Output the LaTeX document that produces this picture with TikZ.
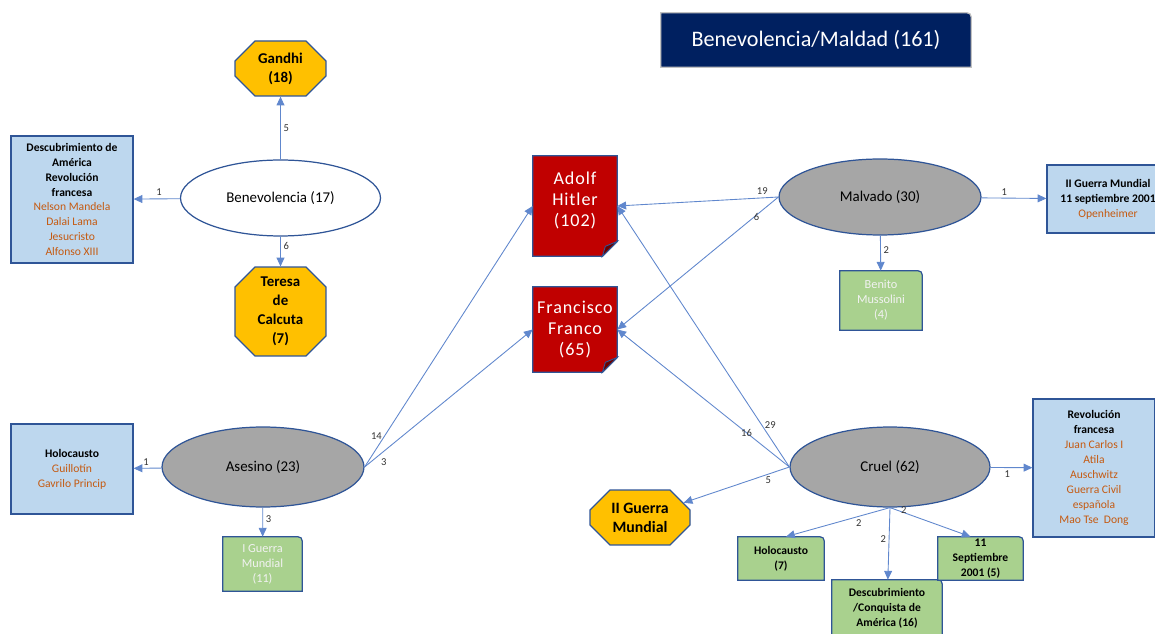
\documentclass[tikz,border=0pt]{standalone}
\usepackage{fontspec}
\setmainfont{Carlito}
\newfontfamily\spacedfont[LetterSpace=5]{Carlito}
\usetikzlibrary{shapes.geometric,shapes.misc,arrows.meta,backgrounds}

\definecolor{linkblue}{HTML}{4472C4}
\definecolor{edgeblue}{HTML}{2F5597}
\definecolor{boxblue}{HTML}{BDD7EE}
\definecolor{namecol}{HTML}{C55A11}
\definecolor{gold}{HTML}{FFC000}
\definecolor{leaf}{HTML}{A9D18E}
\definecolor{stone}{HTML}{A6A6A6}
\definecolor{blood}{HTML}{C00000}
\definecolor{navy}{HTML}{002060}

\tikzset{
  arr/.style={draw=linkblue!85, line width=0.5pt, -{Triangle[length=5pt,width=4.5pt]}},
  num/.style={font=\fontsize{6}{6}\selectfont, text=black!80, inner sep=1.5pt},
  trait/.style={ellipse, draw=edgeblue, line width=0.7pt, minimum width=4cm, minimum height=1.52cm, inner sep=0pt, font=\fontsize{8.5}{10}\selectfont},
  listbox/.style={rectangle, draw=edgeblue, fill=boxblue, line width=0.7pt, minimum width=2.44cm, align=center, inner sep=0pt, font=\fontsize{6.6}{8.5}\selectfont\bfseries},
  octo/.style={chamfered rectangle, chamfered rectangle xsep=0.2cm, chamfered rectangle ysep=0.2cm, draw=edgeblue, fill=gold, line width=0.7pt, align=center, inner sep=0pt, font=\fontsize{8.5}{10.8}\selectfont\bfseries},
  leafbox/.style={align=center, inner sep=0pt, font=\fontsize{6.6}{8.5}\selectfont\bfseries},
  person/.style={align=center, inner sep=0pt, minimum width=1.68cm, text=white, font=\spacedfont\fontsize{10.3}{12}\selectfont},
}
\newcommand{\nm}[1]{{\mdseries\color{namecol}#1}}

\begin{document}
\begin{tikzpicture}[x=0.02cm, y=-0.02cm]
  \useasboundingbox (0,0) rectangle (1155,634);

  % title
  \node[align=center, minimum width=6.2cm, minimum height=1.08cm, text=white, font=\fontsize{12.6}{14}\selectfont] (title) at (816,40) {Benevolencia/Maldad (161)};

  % benevolencia
  \node[trait] (benev) at (280.5,198) {Benevolencia (17)};
  \node[octo, minimum width=1.82cm, minimum height=1.1cm] (gandhi) at (280.5,68.5) {Gandhi\\(18)};
  \node[octo, minimum width=1.82cm, minimum height=1.46cm] (teresa) at (280.5,311.5) {Teresa\\de\\Calcuta\\(7)};
  \node[listbox, minimum height=2.54cm] (virtues) at (72,199.5) {Descubrimiento de\\América\\Revolución\\francesa\\\nm{Nelson Mandela}\\\nm{Dalai Lama}\\\nm{Jesucristo}\\\nm{Alfonso XIII}};

  % persons
  \node[person, minimum height=2cm] (hitler) at (575,206) {Adolf\\Hitler\\(102)\\[-4pt]};
  \node[person, minimum height=1.7cm] (franco) at (575,329.5) {Francisco\\Franco\\(65)};

  % malvado
  \node[trait, fill=stone, minimum width=4.04cm] (malvado) at (880,197) {Malvado (30)};
  \node[listbox, minimum height=1.36cm] (wwii) at (1108,199) {II Guerra Mundial\\11 septiembre 2001\\\nm{Openheimer}};
  \node[leafbox, text=white!95!black, minimum width=1.64cm, minimum height=1.18cm, font=\fontsize{7}{8.6}\selectfont] (musso) at (881,300.5) {Benito\\Mussolini\\(4)};

  % asesino
  \node[trait, fill=stone, minimum width=4.04cm, minimum height=1.6cm] (asesino) at (263,467) {Asesino (23)};
  \node[listbox, minimum height=1.8cm] (holoc) at (72,469) {Holocausto\\\nm{Guillotín}\\\nm{Gavrilo Princip}};
  \node[leafbox, text=white!95!black, minimum width=1.58cm, minimum height=1.08cm, font=\fontsize{7}{8.6}\selectfont] (iguerra) at (262.5,564) {I Guerra\\Mundial\\(11)};

  % cruel
  \node[trait, fill=stone, minimum height=1.6cm] (cruel) at (890,467) {Cruel (62)};
  \node[listbox, minimum height=2.76cm] (crimes) at (1094,468) {Revolución\\francesa\\\nm{Juan Carlos I}\\\nm{Atila}\\\nm{Auschwitz}\\\nm{Guerra Civil}\\\nm{española}\\\nm{Mao Tse~ Dong}};
  \node[octo, minimum width=2cm, minimum height=1.1cm, font=\fontsize{9}{10.8}\selectfont\bfseries] (guerra2) at (640,517.5) {II Guerra\\Mundial};
  \node[leafbox, minimum width=1.72cm, minimum height=0.86cm] (holo7) at (781,558.5) {Holocausto\\(7)};
  \node[leafbox, minimum width=2.2cm, minimum height=1.12cm] (descub) at (887,608) {Descubrimiento\\/Conquista de\\América (16)};
  \node[leafbox, minimum width=1.7cm, minimum height=0.86cm] (sept) at (980.5,558.5) {11\\Septiembre\\2001 (5)};

  % shapes behind the texts
  \begin{scope}[on background layer]
    \filldraw[draw=stone!70, fill=navy, line width=0.7pt] (title.south west) -- (title.north west) -- ([xshift=-0.2cm]title.north east) .. controls (title.north east) .. ([yshift=-0.2cm]title.north east) -- (title.south east) -- cycle;
    \foreach \n in {hitler,franco} {
      \filldraw[draw=edgeblue, fill=blood, line width=0.7pt] (\n.north west) -- (\n.north east) -- ([yshift=0.3cm]\n.south east) -- ([xshift=-0.3cm]\n.south east) -- (\n.south west) -- cycle;
      \filldraw[draw=edgeblue, fill=blood!55!black, line width=0.5pt] ([yshift=0.3cm]\n.south east) -- ([xshift=-0.3cm]\n.south east) -- ([xshift=-0.24cm,yshift=0.2cm]\n.south east) -- cycle;
    }
    \foreach \n in {musso,iguerra,holo7,descub,sept}
      \filldraw[draw=edgeblue, fill=leaf, line width=0.7pt] (\n.south west) -- (\n.north west) -- ([xshift=-0.2cm]\n.north east) .. controls (\n.north east) .. ([yshift=-0.2cm]\n.north east) -- (\n.south east) -- cycle;
  \end{scope}

  % links
  \draw[arr] (benev) -- node[num, above, pos=0.45] {1} (virtues);
  \draw[arr] (benev) -- node[num, right, pos=0.5] {5} (gandhi);
  \draw[arr] (benev) -- node[num, right, pos=0.3] {6} (teresa);
  \draw[arr] (malvado.west) -- node[num, above, pos=0.1] {19} (hitler.east);
  \draw[arr] (malvado.west) -- node[num, below left, pos=0.1] {6} (franco.east);
  \draw[arr] (malvado) -- node[num, above, pos=0.35] {1} (wwii);
  \draw[arr] (malvado) -- node[num, right, pos=0.4] {2} (musso);
  \draw[arr] (asesino) -- node[num, above, pos=0.55] {1} (holoc);
  \draw[arr] (asesino) -- node[num, right, pos=0.4] {3} (iguerra);
  \draw[arr] (asesino.east) -- node[num, left, pos=0.12] {14} (hitler.west);
  \draw[arr] (asesino.east) -- node[num, below right, pos=0.08] {3} (franco.west);
  \draw[arr] (cruel.west) -- node[num, right, pos=0.16] {29} (hitler.east);
  \draw[arr] (cruel.west) -- node[num, above left, pos=0.2] {16} (franco.east);
  \draw[arr] (cruel.west) -- node[num, below, pos=0.2] {5} (guerra2);
  \draw[arr] (cruel) -- node[num, below, pos=0.4] {1} (crimes);
  \draw[arr] (cruel.south) -- node[num, below, pos=0.3] {2} ([xshift=0.1cm]holo7.north);
  \draw[arr] (cruel.south) -- node[num, left, pos=0.43] {2} (descub);
  \draw[arr] (cruel.south) -- node[num, right, pos=0.1] {2} ([xshift=-0.2cm]sept.north);
\end{tikzpicture}
\end{document}
